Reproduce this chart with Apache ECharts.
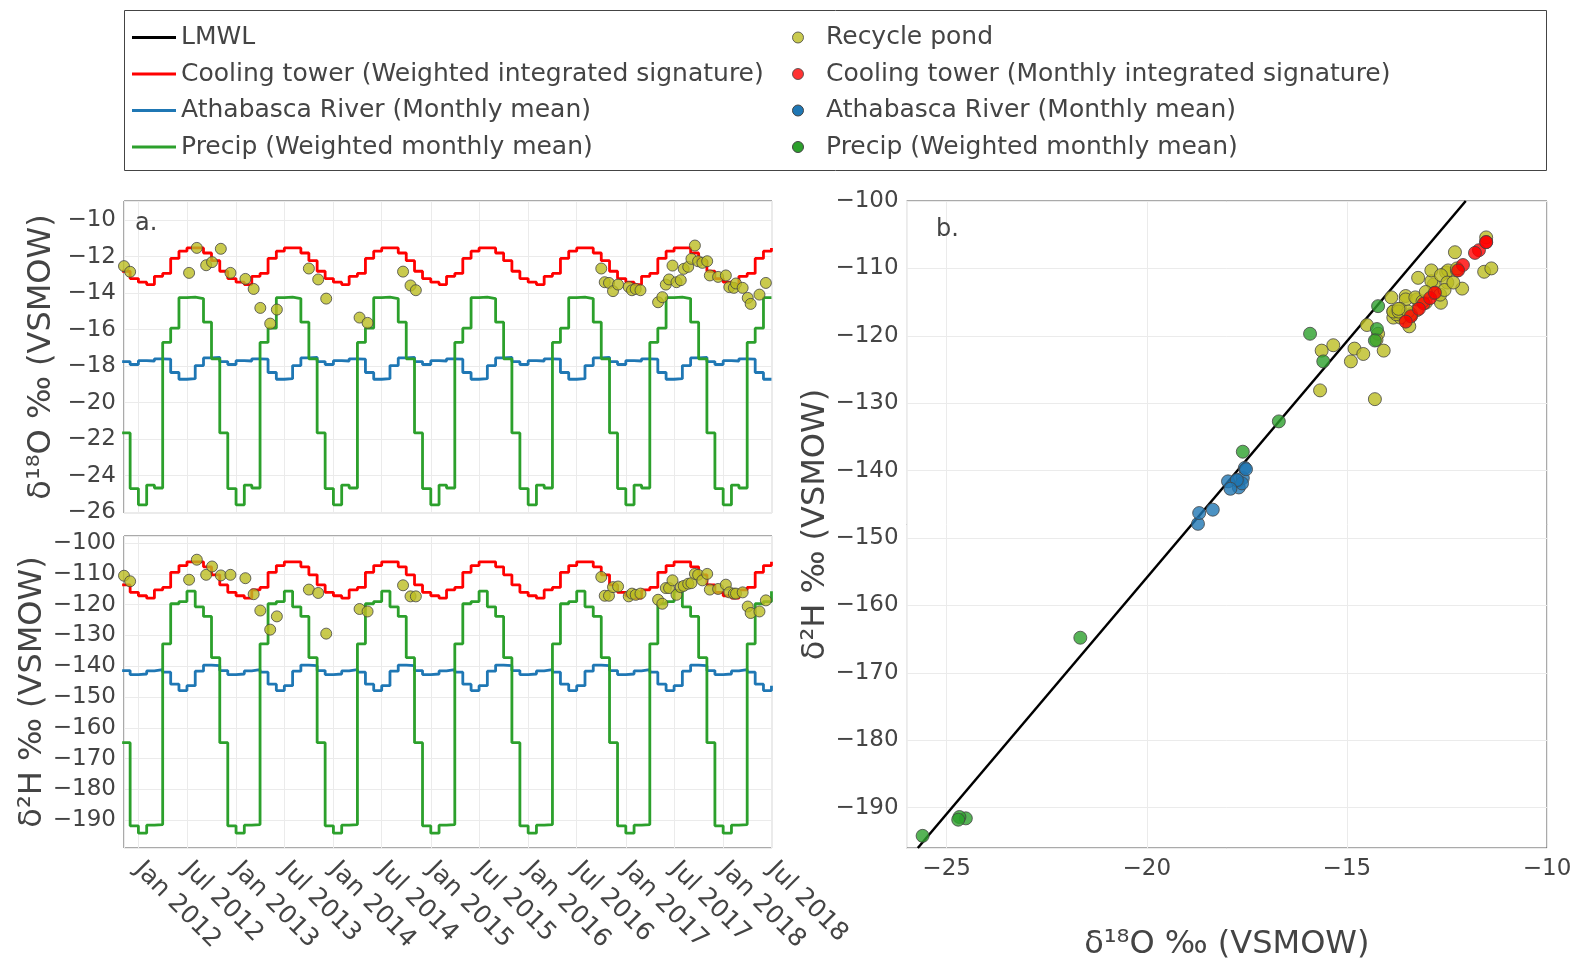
<!DOCTYPE html>
<html>
<head>
<meta charset="utf-8">
<script src="https://cdn.jsdelivr.net/npm/echarts@6/dist/echarts.min.js"></script>
<style>html,body{margin:0;padding:0;background:#fff}#c{width:1578px;height:960px}</style>
</head>
<body>
<div id="c"></div>
<script>
// ---------- DATA ----------
const MONTHS = ['Jan','Feb','Mar','Apr','May','Jun','Jul','Aug','Sep','Oct','Nov','Dec'];

// Monthly (Jan..Dec) signatures, repeated every year in panel a
const coolingO = [-13.40, -13.53, -13.08, -12.92, -12.10, -11.70, -11.52, -11.52, -11.80, -12.22, -12.80, -13.20];
const coolingH = [-117.1, -117.9, -115.2, -114.4, -109.5, -107.3, -106.1, -106.1, -107.7, -110.3, -113.6, -116.0];
const riverO   = [-17.70, -17.72, -17.60, -17.62, -18.35, -18.72, -18.69, -17.97, -17.55, -17.52, -17.75, -17.91];
const riverH   = [-142.5, -141.5, -141.1, -141.9, -145.8, -147.9, -146.3, -141.6, -139.6, -139.8, -141.4, -142.7];
const precipO  = [-25.60, -24.52, -24.68, -16.70, -15.92, -14.25, -14.22, -14.30, -15.59, -17.60, -21.66, -24.71];
const precipH  = [-194.2, -191.6, -191.4, -132.7, -119.7, -119.0, -115.6, -120.7, -123.8, -137.2, -164.8, -191.8];

// Step-line span (first and last monthly point)
const stepStart = '2011-11';
const stepEnd = '2018-07';

// Recycle pond samples
const pondDates = ['2011-11-08','2011-12-01','2012-07-09','2012-08-07','2012-09-11','2012-10-03','2012-11-05','2012-12-11',
  '2013-02-05','2013-03-08','2013-04-02','2013-05-09','2013-06-03','2013-10-01','2013-11-05','2013-12-05',
  '2014-04-09','2014-05-09','2014-09-19','2014-10-17','2014-11-06',
  '2016-10-01','2016-10-14','2016-10-30','2016-11-14','2016-12-03','2017-01-12','2017-01-24','2017-02-07','2017-02-25',
  '2017-05-02','2017-05-18','2017-05-31','2017-06-12','2017-06-25','2017-07-10','2017-07-26','2017-08-06','2017-08-23',
  '2017-09-04','2017-09-17','2017-09-29','2017-10-15','2017-11-02','2017-11-12','2017-12-13','2018-01-11','2018-01-24',
  '2018-02-10','2018-02-18','2018-03-15','2018-04-03','2018-04-14','2018-05-17','2018-06-10'];
const pondO = [-12.52,-12.83,-12.89,-11.52,-12.47,-12.30,-11.57,-12.89,
  -13.22,-13.77,-14.81,-15.67,-14.90,-12.65,-13.25,-14.30,
  -15.34,-15.63,-12.82,-13.58,-13.84,
  -12.65,-13.40,-13.44,-13.89,-13.53,-13.66,-13.84,-13.77,-13.84,
  -14.50,-14.22,-13.53,-13.25,-12.49,-13.40,-13.29,-12.67,-12.56,
  -12.12,-11.39,-12.25,-12.34,-12.25,-13.03,-13.11,-13.03,-13.67,
  -13.71,-13.47,-13.71,-14.26,-14.59,-14.08,-13.44];
const pondH = [-110.6,-112.4,-111.9,-105.4,-110.3,-107.6,-110.5,-110.3,
  -111.4,-116.6,-121.9,-128.1,-123.8,-115.1,-116.2,-129.4,
  -121.4,-122.2,-113.7,-117.3,-117.3,
  -111.0,-117.1,-117.1,-114.3,-114.1,-117.3,-116.4,-116.8,-116.4,
  -118.4,-119.7,-114.6,-114.6,-112.1,-116.8,-114.3,-113.9,-113.2,
  -113.0,-110.0,-110.3,-112.1,-110.0,-115.1,-114.9,-113.5,-116.0,
  -116.4,-116.4,-116.0,-120.6,-122.7,-122.2,-118.6];

// LMWL end points (δ18O, δ2H)
const lmwlO = [-25.72, -12.03];
const lmwlH = [-196.0, -100.0];

// ---------- BUILD ----------
function monthlySteps(arr) {
  const out = [];
  let [y, m] = stepStart.split('-').map(Number);
  const [ye, me] = stepEnd.split('-').map(Number);
  while (y < ye || (y === ye && m <= me)) {
    out.push([y + '-' + String(m).padStart(2, '0') + '-01', arr[m - 1]]);
    m++; if (m > 12) { m = 1; y++; }
  }
  return out;
}
const pair = (a, b) => a.map((v, i) => [v, b[i]]);

const FONT = 'DejaVu Sans';
const TXT = '#444';
const GRIDC = '#ebebeb';
const RED = '#ff0000', BLUE = '#1f77b4', GREEN = '#2ca02c', OLIVE = '#bcbd22';
const HALF_YEAR = 183 * 24 * 3600 * 1000;
const minus = v => String(v).replace('-', '\u2212');
const dateLabel = v => { const d = new Date(v); return MONTHS[d.getMonth()] + ' ' + d.getFullYear(); };

const N_CT_W = 'Cooling tower (Weighted integrated signature)';
const N_CT_M = 'Cooling tower (Monthly integrated signature)';
const N_RIV = 'Athabasca River (Monthly mean)';
const N_PRE = 'Precip (Weighted monthly mean)';
const N_POND = 'Recycle pond';
const N_LMWL = 'LMWL';

function timeAxis(gi, showLabels) {
  return {
    type: 'time', gridIndex: gi, min: '2011-11-08', max: '2018-07-03',
    minInterval: HALF_YEAR, maxInterval: HALF_YEAR,
    axisLine: {show: false}, axisTick: {show: false},
    splitLine: {show: true, lineStyle: {color: GRIDC, width: 1}},
    axisLabel: {show: showLabels, rotate: -45, margin: 18, fontSize: 25, color: TXT, fontFamily: FONT,
      formatter: dateLabel, showMinLabel: false}
  };
}
function valAxis(gi, min, max, split, name, gap, extraLabel) {
  return {
    type: 'value', gridIndex: gi, min: min, max: max, splitNumber: split,
    axisLine: {show: false}, axisTick: {show: false},
    splitLine: {show: true, lineStyle: {color: GRIDC, width: 1}},
    axisLabel: Object.assign({fontSize: 23, color: TXT, fontFamily: FONT, margin: 8, formatter: minus}, extraLabel || {}),
    name: name, nameLocation: 'middle', nameGap: gap,
    nameTextStyle: {fontSize: 32, color: TXT, fontFamily: FONT}
  };
}
function stepLine(name, arr, color, xi) {
  return {type: 'line', name: name, xAxisIndex: xi, yAxisIndex: xi, step: 'end', data: monthlySteps(arr),
    showSymbol: false, color: color, lineStyle: {color: color, width: 2.8}, itemStyle: {color: color}, z: 2};
}
function pts(name, data, color, xi, size, z) {
  return {type: 'scatter', name: name, xAxisIndex: xi, yAxisIndex: xi, data: data, symbolSize: size,
    color: color, itemStyle: {color: color, borderColor: '#444', borderWidth: 1}, z: z || 3};
}

const option = {
  animation: false,
  textStyle: {fontFamily: FONT, color: TXT},
  grid: [
    {left: 124, top: 201, width: 648, height: 312, show: true, borderColor: '#555', borderWidth: 1, outerBoundsMode: 'none', containLabel: false},
    {left: 124, top: 536, width: 648, height: 312, show: true, borderColor: '#555', borderWidth: 1, outerBoundsMode: 'none', containLabel: false},
    {left: 906.6, top: 201, width: 640.4, height: 647, show: true, borderColor: '#555', borderWidth: 1, outerBoundsMode: 'none', containLabel: false}
  ],
  xAxis: [
    timeAxis(0, false),
    timeAxis(1, true),
    valAxis(2, -26, -10, 4, 'δ¹⁸O ‰ (VSMOW)', 81, {margin: 10, showMinLabel: false})
  ],
  yAxis: [
    valAxis(0, -26.05, -8.95, 8, 'δ¹⁸O ‰ (VSMOW)', 66, {showMinLabel: false, showMaxLabel: false}),
    valAxis(1, -199.0, -97.7, 10, 'δ²H ‰ (VSMOW)', 66, {showMinLabel: false, showMaxLabel: false}),
    valAxis(2, -196, -100, 10, 'δ²H ‰ (VSMOW)', 72, {showMinLabel: false})
  ],
  legend: [
    {orient: 'vertical', left: 132, top: 25, padding: 0, itemWidth: 44, itemHeight: 3, itemGap: 11.5,
      icon: 'rect', selectedMode: false, itemStyle: {borderWidth: 0},
      textStyle: {fontSize: 25, color: TXT, fontFamily: FONT, lineHeight: 24},
      data: [N_LMWL, N_CT_W, N_RIV, N_PRE]},
    {orient: 'vertical', left: 792, top: 25, padding: 0, itemWidth: 46, itemHeight: 11, itemGap: 11.5,
      icon: 'circle', selectedMode: false,
      textStyle: {fontSize: 25, color: TXT, fontFamily: FONT, lineHeight: 24},
      data: [
        {name: N_POND, icon: 'circle', itemStyle: {color: OLIVE, borderColor: '#444', borderWidth: 1}},
        {name: N_CT_M, icon: 'circle', itemStyle: {color: RED, borderColor: '#444', borderWidth: 1}},
        {name: N_RIV, icon: 'circle', itemStyle: {color: BLUE, borderColor: '#444', borderWidth: 1}},
        {name: N_PRE, icon: 'circle', itemStyle: {color: GREEN, borderColor: '#444', borderWidth: 1}}
      ]}
  ],
  graphic: [
    {type: 'rect', shape: {x: 124.5, y: 10.5, width: 1422, height: 160}, style: {fill: 'none', stroke: '#444', lineWidth: 1}, z: -1},
    {type: 'text', x: 135, y: 224, style: {text: 'a.', font: '24px "DejaVu Sans"', fill: TXT, textVerticalAlign: 'middle'}, z: 10},
    {type: 'text', x: 936, y: 230, style: {text: 'b.', font: '24px "DejaVu Sans"', fill: TXT, textVerticalAlign: 'middle'}, z: 10}
  ],
  series: [
    stepLine(N_CT_W, coolingO, RED, 0),
    stepLine(N_RIV, riverO, BLUE, 0),
    stepLine(N_PRE, precipO, GREEN, 0),
    pts(N_POND, pondDates.map((d, i) => [d, pondO[i]]), OLIVE, 0, 11),
    stepLine(N_CT_W, coolingH, RED, 1),
    stepLine(N_RIV, riverH, BLUE, 1),
    stepLine(N_PRE, precipH, GREEN, 1),
    pts(N_POND, pondDates.map((d, i) => [d, pondH[i]]), OLIVE, 1, 11),
    {type: 'line', name: N_LMWL, xAxisIndex: 2, yAxisIndex: 2, data: pair(lmwlO, lmwlH), showSymbol: false,
      color: '#000', lineStyle: {color: '#000', width: 2.5}, itemStyle: {color: '#000'}, z: 2},
    pts(N_POND, pair(pondO, pondH), OLIVE, 2, 13, 3),
    pts(N_CT_M, pair(coolingO, coolingH), RED, 2, 13, 4),
    pts(N_RIV, pair(riverO, riverH), BLUE, 2, 13, 4),
    pts(N_PRE, pair(precipO, precipH), GREEN, 2, 13, 4)
  ]
};
const chart = echarts.init(document.getElementById('c'), null, {renderer: 'canvas'});
chart.setOption(option);
</script>
</body>
</html>
